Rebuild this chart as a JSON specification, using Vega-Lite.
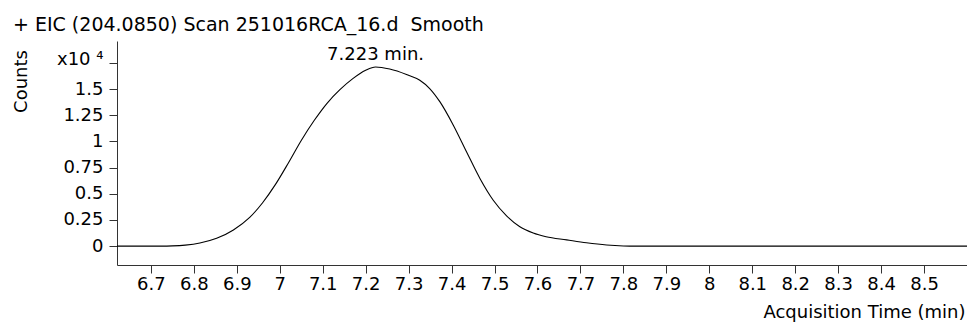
{
  "$schema": "https://vega.github.io/schema/vega-lite/v6.json",
  "width": 850,
  "height": 224,
  "autosize": {"type": "none"},
  "padding": {"left": 117, "top": 41, "right": 0, "bottom": 58},
  "background": "white",
  "title": {
    "text": "+ EIC (204.0850) Scan 251016RCA_16.d\u00a0 Smooth",
    "anchor": "start",
    "frame": "group",
    "dx": -104,
    "offset": -9,
    "baseline": "alphabetic",
    "font": "DejaVu Sans",
    "fontSize": 19,
    "fontWeight": "normal",
    "color": "#000000"
  },
  "datasets": {
    "eic": [
      {"time": 6.621, "counts": 0},
      {"time": 6.7, "counts": 0},
      {"time": 6.72, "counts": 3},
      {"time": 6.75, "counts": 25},
      {"time": 6.78, "counts": 100},
      {"time": 6.814, "counts": 300},
      {"time": 6.853, "counts": 750},
      {"time": 6.892, "counts": 1550},
      {"time": 6.93, "counts": 2750},
      {"time": 6.96, "counts": 4150},
      {"time": 6.99, "counts": 5900},
      {"time": 7.02, "counts": 7950},
      {"time": 7.05, "counts": 10100},
      {"time": 7.08, "counts": 12000},
      {"time": 7.11, "counts": 13650},
      {"time": 7.14, "counts": 14950},
      {"time": 7.17, "counts": 16000},
      {"time": 7.2, "counts": 16800},
      {"time": 7.223, "counts": 17120},
      {"time": 7.256, "counts": 16920},
      {"time": 7.295, "counts": 16400},
      {"time": 7.326, "counts": 15850},
      {"time": 7.349, "counts": 15060},
      {"time": 7.373, "counts": 13780},
      {"time": 7.404, "counts": 11560},
      {"time": 7.435, "counts": 9000},
      {"time": 7.466, "counts": 6470},
      {"time": 7.497, "counts": 4390},
      {"time": 7.528, "counts": 2900},
      {"time": 7.559, "counts": 1850},
      {"time": 7.59, "counts": 1250},
      {"time": 7.62, "counts": 900},
      {"time": 7.668, "counts": 600},
      {"time": 7.714, "counts": 320},
      {"time": 7.761, "counts": 110},
      {"time": 7.8, "counts": 20},
      {"time": 7.83, "counts": 0},
      {"time": 8.6, "counts": 0}
    ],
    "peaks": [
      {"time": 7.223, "counts": 17120, "label": "7.223 min."}
    ]
  },
  "encoding": {
    "x": {
      "field": "time",
      "type": "quantitative",
      "scale": {"domain": [6.621, 8.6], "nice": false, "zero": false},
      "axis": {
        "title": "Acquisition Time (min)",
        "values": [6.7, 6.8, 6.9, 7, 7.1, 7.2, 7.3, 7.4, 7.5, 7.6, 7.7, 7.8, 7.9, 8, 8.1, 8.2, 8.3, 8.4, 8.5],
        "labelExpr": "format(datum.value, '~g')",
        "grid": false,
        "tickSize": 8,
        "labelPadding": 2,
        "titleX": 848,
        "titleY": 52,
        "titleAlign": "right",
        "titleBaseline": "alphabetic",
        "titleAnchor": null
      }
    },
    "y": {
      "field": "counts",
      "type": "quantitative",
      "scale": {"domain": [-1800, 19600], "nice": false, "zero": false},
      "axis": {
        "title": "Counts",
        "values": [0, 2500, 5000, 7500, 10000, 12500, 15000, 17500],
        "labelExpr": "datum.value == 17500 ? 'x10 \u2074' : format(datum.value / 10000, '~g')",
        "labelOffset": {"condition": {"test": "datum.value == 17500", "value": -3}, "value": 0},
        "grid": false,
        "tickSize": 8,
        "labelPadding": 6,
        "titleAngle": 270,
        "titleX": -96,
        "titleY": 40,
        "titleAlign": "center",
        "titleBaseline": "middle"
      }
    }
  },
  "layer": [
    {
      "data": {"name": "eic"},
      "mark": {"type": "line", "interpolate": "monotone", "color": "#000000", "strokeWidth": 1.1}
    },
    {
      "data": {"name": "peaks"},
      "mark": {"type": "text", "baseline": "alphabetic", "align": "center", "dy": -7, "font": "DejaVu Sans", "fontSize": 18, "color": "#000000"},
      "encoding": {"text": {"field": "label"}}
    }
  ],
  "config": {
    "view": {"stroke": null},
    "axis": {
      "domainColor": "#333333",
      "tickColor": "#333333",
      "domainWidth": 1,
      "tickWidth": 1,
      "labelFont": "DejaVu Sans",
      "labelFontSize": 18,
      "labelColor": "#000000",
      "titleFont": "DejaVu Sans",
      "titleFontSize": 18,
      "titleFontWeight": "normal",
      "titleColor": "#000000"
    }
  }
}
